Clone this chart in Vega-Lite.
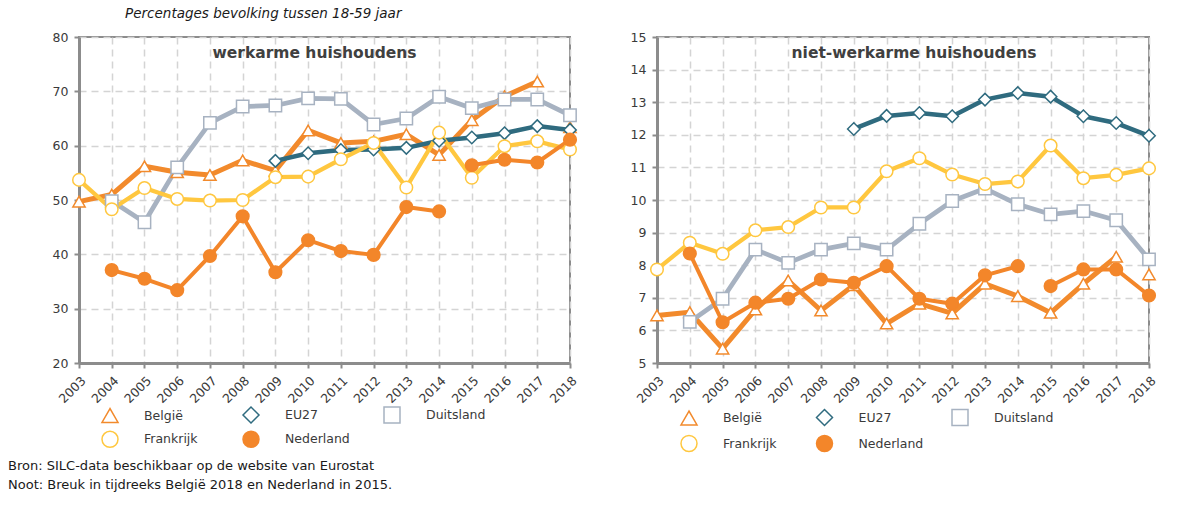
{
  "$schema": "https://vega.github.io/schema/vega-lite/v6.json",
  "background": "white",
  "padding": {"left": 8, "top": 6, "right": 10, "bottom": 5},
  "config": {
    "font": "DejaVu Sans",
    "view": {"stroke": "#8c8c8c", "strokeWidth": 2},
    "axis": {"labelFont": "DejaVu Sans", "labelFontSize": 12.5, "labelColor": "#3a3a3a", "domainColor": "#8c8c8c", "domainWidth": 3, "tickColor": "#8c8c8c", "tickWidth": 2, "tickSize": 5, "labelPadding": 6, "gridColor": "#d4d4d4", "gridDash": [7, 5], "gridWidth": 1.5},
    "legend": {"labelFont": "DejaVu Sans", "labelFontSize": 12.5, "labelColor": "#3a3a3a", "symbolSize": 256, "symbolStrokeWidth": 1.5, "labelOffset": 25, "gridAlign": "all", "padding": 0, "columns": 3, "direction": "horizontal", "orient": "none", "title": null}
  },
  "datasets": {
    "werk": [
      {"series": "België", "segment": "a", "year": 2003, "value": 49.7},
      {"series": "België", "segment": "a", "year": 2004, "value": 51.0},
      {"series": "België", "segment": "a", "year": 2005, "value": 56.2},
      {"series": "België", "segment": "a", "year": 2006, "value": 55.1},
      {"series": "België", "segment": "a", "year": 2007, "value": 54.6},
      {"series": "België", "segment": "a", "year": 2008, "value": 57.3},
      {"series": "België", "segment": "a", "year": 2009, "value": 55.4},
      {"series": "België", "segment": "a", "year": 2010, "value": 62.8},
      {"series": "België", "segment": "a", "year": 2011, "value": 60.5},
      {"series": "België", "segment": "a", "year": 2012, "value": 60.8},
      {"series": "België", "segment": "a", "year": 2013, "value": 62.1},
      {"series": "België", "segment": "a", "year": 2014, "value": 58.3},
      {"series": "België", "segment": "a", "year": 2015, "value": 64.7},
      {"series": "België", "segment": "a", "year": 2016, "value": 69.1},
      {"series": "België", "segment": "a", "year": 2017, "value": 71.8},
      {"series": "België", "segment": "b", "year": 2018, "value": 63.4},
      {"series": "EU27", "segment": "a", "year": 2009, "value": 57.2},
      {"series": "EU27", "segment": "a", "year": 2010, "value": 58.6},
      {"series": "EU27", "segment": "a", "year": 2011, "value": 59.2},
      {"series": "EU27", "segment": "a", "year": 2012, "value": 59.3},
      {"series": "EU27", "segment": "a", "year": 2013, "value": 59.6},
      {"series": "EU27", "segment": "a", "year": 2014, "value": 60.9},
      {"series": "EU27", "segment": "a", "year": 2015, "value": 61.5},
      {"series": "EU27", "segment": "a", "year": 2016, "value": 62.3},
      {"series": "EU27", "segment": "a", "year": 2017, "value": 63.6},
      {"series": "EU27", "segment": "a", "year": 2018, "value": 62.9},
      {"series": "Duitsland", "segment": "a", "year": 2004, "value": 49.8},
      {"series": "Duitsland", "segment": "a", "year": 2005, "value": 45.9},
      {"series": "Duitsland", "segment": "a", "year": 2006, "value": 56.0},
      {"series": "Duitsland", "segment": "a", "year": 2007, "value": 64.2},
      {"series": "Duitsland", "segment": "a", "year": 2008, "value": 67.2},
      {"series": "Duitsland", "segment": "a", "year": 2009, "value": 67.4},
      {"series": "Duitsland", "segment": "a", "year": 2010, "value": 68.7},
      {"series": "Duitsland", "segment": "a", "year": 2011, "value": 68.6},
      {"series": "Duitsland", "segment": "a", "year": 2012, "value": 63.9},
      {"series": "Duitsland", "segment": "a", "year": 2013, "value": 65.0},
      {"series": "Duitsland", "segment": "a", "year": 2014, "value": 69.0},
      {"series": "Duitsland", "segment": "a", "year": 2015, "value": 66.9},
      {"series": "Duitsland", "segment": "a", "year": 2016, "value": 68.5},
      {"series": "Duitsland", "segment": "a", "year": 2017, "value": 68.5},
      {"series": "Duitsland", "segment": "a", "year": 2018, "value": 65.6},
      {"series": "Frankrijk", "segment": "a", "year": 2003, "value": 53.7},
      {"series": "Frankrijk", "segment": "a", "year": 2004, "value": 48.3},
      {"series": "Frankrijk", "segment": "a", "year": 2005, "value": 52.2},
      {"series": "Frankrijk", "segment": "a", "year": 2006, "value": 50.2},
      {"series": "Frankrijk", "segment": "a", "year": 2007, "value": 49.9},
      {"series": "Frankrijk", "segment": "a", "year": 2008, "value": 50.0},
      {"series": "Frankrijk", "segment": "a", "year": 2009, "value": 54.2},
      {"series": "Frankrijk", "segment": "a", "year": 2010, "value": 54.3},
      {"series": "Frankrijk", "segment": "a", "year": 2011, "value": 57.5},
      {"series": "Frankrijk", "segment": "a", "year": 2012, "value": 60.5},
      {"series": "Frankrijk", "segment": "a", "year": 2013, "value": 52.3},
      {"series": "Frankrijk", "segment": "a", "year": 2014, "value": 62.4},
      {"series": "Frankrijk", "segment": "a", "year": 2015, "value": 54.1},
      {"series": "Frankrijk", "segment": "a", "year": 2016, "value": 59.9},
      {"series": "Frankrijk", "segment": "a", "year": 2017, "value": 60.8},
      {"series": "Frankrijk", "segment": "a", "year": 2018, "value": 59.3},
      {"series": "Nederland", "segment": "a", "year": 2004, "value": 37.1},
      {"series": "Nederland", "segment": "a", "year": 2005, "value": 35.5},
      {"series": "Nederland", "segment": "a", "year": 2006, "value": 33.4},
      {"series": "Nederland", "segment": "a", "year": 2007, "value": 39.7},
      {"series": "Nederland", "segment": "a", "year": 2008, "value": 47.0},
      {"series": "Nederland", "segment": "a", "year": 2009, "value": 36.7},
      {"series": "Nederland", "segment": "a", "year": 2010, "value": 42.6},
      {"series": "Nederland", "segment": "a", "year": 2011, "value": 40.6},
      {"series": "Nederland", "segment": "a", "year": 2012, "value": 39.9},
      {"series": "Nederland", "segment": "a", "year": 2013, "value": 48.7},
      {"series": "Nederland", "segment": "a", "year": 2014, "value": 47.9},
      {"series": "Nederland", "segment": "b", "year": 2015, "value": 56.4},
      {"series": "Nederland", "segment": "b", "year": 2016, "value": 57.4},
      {"series": "Nederland", "segment": "b", "year": 2017, "value": 56.9},
      {"series": "Nederland", "segment": "b", "year": 2018, "value": 61.1}
    ],
    "niet": [
      {"series": "België", "segment": "a", "year": 2003, "value": 6.46},
      {"series": "België", "segment": "a", "year": 2004, "value": 6.56},
      {"series": "België", "segment": "a", "year": 2005, "value": 5.44},
      {"series": "België", "segment": "a", "year": 2006, "value": 6.64},
      {"series": "België", "segment": "a", "year": 2007, "value": 7.53},
      {"series": "België", "segment": "a", "year": 2008, "value": 6.61},
      {"series": "België", "segment": "a", "year": 2009, "value": 7.39},
      {"series": "België", "segment": "a", "year": 2010, "value": 6.21},
      {"series": "België", "segment": "a", "year": 2011, "value": 6.82},
      {"series": "België", "segment": "a", "year": 2012, "value": 6.52},
      {"series": "België", "segment": "a", "year": 2013, "value": 7.43},
      {"series": "België", "segment": "a", "year": 2014, "value": 7.05},
      {"series": "België", "segment": "a", "year": 2015, "value": 6.54},
      {"series": "België", "segment": "a", "year": 2016, "value": 7.43},
      {"series": "België", "segment": "a", "year": 2017, "value": 8.26},
      {"series": "België", "segment": "b", "year": 2018, "value": 7.72},
      {"series": "EU27", "segment": "a", "year": 2009, "value": 12.18},
      {"series": "EU27", "segment": "a", "year": 2010, "value": 12.58},
      {"series": "EU27", "segment": "a", "year": 2011, "value": 12.67},
      {"series": "EU27", "segment": "a", "year": 2012, "value": 12.57},
      {"series": "EU27", "segment": "a", "year": 2013, "value": 13.08},
      {"series": "EU27", "segment": "a", "year": 2014, "value": 13.28},
      {"series": "EU27", "segment": "a", "year": 2015, "value": 13.17},
      {"series": "EU27", "segment": "a", "year": 2016, "value": 12.57},
      {"series": "EU27", "segment": "a", "year": 2017, "value": 12.36},
      {"series": "EU27", "segment": "a", "year": 2018, "value": 11.97},
      {"series": "Duitsland", "segment": "a", "year": 2004, "value": 6.26},
      {"series": "Duitsland", "segment": "a", "year": 2005, "value": 6.97},
      {"series": "Duitsland", "segment": "a", "year": 2006, "value": 8.48},
      {"series": "Duitsland", "segment": "a", "year": 2007, "value": 8.07},
      {"series": "Duitsland", "segment": "a", "year": 2008, "value": 8.48},
      {"series": "Duitsland", "segment": "a", "year": 2009, "value": 8.67},
      {"series": "Duitsland", "segment": "a", "year": 2010, "value": 8.48},
      {"series": "Duitsland", "segment": "a", "year": 2011, "value": 9.27},
      {"series": "Duitsland", "segment": "a", "year": 2012, "value": 9.97},
      {"series": "Duitsland", "segment": "a", "year": 2013, "value": 10.35},
      {"series": "Duitsland", "segment": "a", "year": 2014, "value": 9.87},
      {"series": "Duitsland", "segment": "a", "year": 2015, "value": 9.56},
      {"series": "Duitsland", "segment": "a", "year": 2016, "value": 9.66},
      {"series": "Duitsland", "segment": "a", "year": 2017, "value": 9.38},
      {"series": "Duitsland", "segment": "a", "year": 2018, "value": 8.18},
      {"series": "Frankrijk", "segment": "a", "year": 2003, "value": 7.87},
      {"series": "Frankrijk", "segment": "a", "year": 2004, "value": 8.69},
      {"series": "Frankrijk", "segment": "a", "year": 2005, "value": 8.35},
      {"series": "Frankrijk", "segment": "a", "year": 2006, "value": 9.07},
      {"series": "Frankrijk", "segment": "a", "year": 2007, "value": 9.17},
      {"series": "Frankrijk", "segment": "a", "year": 2008, "value": 9.77},
      {"series": "Frankrijk", "segment": "a", "year": 2009, "value": 9.77},
      {"series": "Frankrijk", "segment": "a", "year": 2010, "value": 10.88},
      {"series": "Frankrijk", "segment": "a", "year": 2011, "value": 11.28},
      {"series": "Frankrijk", "segment": "a", "year": 2012, "value": 10.78},
      {"series": "Frankrijk", "segment": "a", "year": 2013, "value": 10.49},
      {"series": "Frankrijk", "segment": "a", "year": 2014, "value": 10.57},
      {"series": "Frankrijk", "segment": "a", "year": 2015, "value": 11.67},
      {"series": "Frankrijk", "segment": "a", "year": 2016, "value": 10.67},
      {"series": "Frankrijk", "segment": "a", "year": 2017, "value": 10.77},
      {"series": "Frankrijk", "segment": "a", "year": 2018, "value": 10.97},
      {"series": "Nederland", "segment": "a", "year": 2004, "value": 8.36},
      {"series": "Nederland", "segment": "a", "year": 2005, "value": 6.25},
      {"series": "Nederland", "segment": "a", "year": 2006, "value": 6.85},
      {"series": "Nederland", "segment": "a", "year": 2007, "value": 6.97},
      {"series": "Nederland", "segment": "a", "year": 2008, "value": 7.56},
      {"series": "Nederland", "segment": "a", "year": 2009, "value": 7.46},
      {"series": "Nederland", "segment": "a", "year": 2010, "value": 7.97},
      {"series": "Nederland", "segment": "a", "year": 2011, "value": 6.97},
      {"series": "Nederland", "segment": "a", "year": 2012, "value": 6.82},
      {"series": "Nederland", "segment": "a", "year": 2013, "value": 7.69},
      {"series": "Nederland", "segment": "a", "year": 2014, "value": 7.97},
      {"series": "Nederland", "segment": "b", "year": 2015, "value": 7.36},
      {"series": "Nederland", "segment": "b", "year": 2016, "value": 7.87},
      {"series": "Nederland", "segment": "b", "year": 2017, "value": 7.87},
      {"series": "Nederland", "segment": "b", "year": 2018, "value": 7.07}
    ]
  },
  "title": {"text": ["Bron: SILC-data beschikbaar op de website van Eurostat", "Noot: Breuk in tijdreeks België 2018 en Nederland in 2015."], "orient": "bottom", "anchor": "start", "dx": -43, "offset": 4, "font": "DejaVu Sans", "fontSize": 13, "fontWeight": "normal", "color": "#1a1a1a", "lineHeight": 19},
  "vconcat": [
    {
      "title": {"text": "Percentages bevolking tussen 18-59 jaar", "anchor": "start", "dx": 74, "offset": 10, "font": "DejaVu Sans", "fontSize": 13.5, "fontStyle": "italic", "fontWeight": "normal", "color": "#1a1a1a"},
      "spacing": 48,
      "resolve": {"scale": {"stroke": "independent", "fill": "independent", "shape": "independent", "size": "independent", "strokeWidth": "independent"}, "legend": {"stroke": "independent", "fill": "independent", "shape": "independent"}},
      "hconcat": [
        {
          "width": 491,
          "height": 326,
          "title": {"text": "werkarme huishoudens", "frame": "group", "anchor": "middle", "dx": -10, "offset": -30, "font": "DejaVu Sans", "fontSize": 15.5, "fontWeight": "bold", "color": "#404040"},
          "data": {"name": "werk"},
          "encoding": {
            "x": {"field": "year", "type": "quantitative", "title": null, "scale": {"domain": [2003, 2018], "nice": false, "zero": false}, "axis": {"values": [2003, 2004, 2005, 2006, 2007, 2008, 2009, 2010, 2011, 2012, 2013, 2014, 2015, 2016, 2017, 2018], "format": "d", "labelAngle": -45}},
            "y": {"field": "value", "type": "quantitative", "title": null, "scale": {"domain": [20, 80], "nice": false, "zero": false}, "axis": {"values": [20, 30, 40, 50, 60, 70, 80]}}
          },
          "layer": [
            {
              "mark": {"type": "line", "strokeJoin": "round"},
              "encoding": {
                "stroke": {"field": "series", "type": "nominal", "scale": {"domain": ["België", "EU27", "Duitsland", "Frankrijk", "Nederland"], "range": ["#F28A2C", "#2F6B7F", "#A7B2C1", "#FFC73F", "#F3862A"]}},
                "strokeWidth": {"field": "series", "type": "nominal", "scale": {"range": [5, 4, 3.5, 4, 3.5]}, "legend": null},
                "detail": {"field": "segment"}
              }
            },
            {
              "mark": {"type": "point", "filled": true, "opacity": 1, "strokeWidth": 1.5},
              "encoding": {
                "stroke": {"field": "series", "type": "nominal", "legend": {"legendX": 22, "legendY": 369, "columnPadding": 31, "rowPadding": 2.3}},
                "fill": {"field": "series", "type": "nominal", "scale": {"domain": ["België", "EU27", "Duitsland", "Frankrijk", "Nederland"], "range": ["white", "white", "white", "white", "#F3862A"]}},
                "shape": {"field": "series", "type": "nominal", "scale": {"domain": ["België", "EU27", "Duitsland", "Frankrijk", "Nederland"], "range": ["triangle-up", "diamond", "square", "circle", "circle"]}},
                "size": {"field": "series", "type": "nominal", "scale": {"range": [150, 160, 55, 130, 130]}, "legend": null}
              }
            }
          ]
        },
        {
          "width": 492,
          "height": 326,
          "title": {"text": "niet-werkarme huishoudens", "frame": "group", "anchor": "middle", "dx": 11, "offset": -30, "font": "DejaVu Sans", "fontSize": 15.5, "fontWeight": "bold", "color": "#404040"},
          "data": {"name": "niet"},
          "encoding": {
            "x": {"field": "year", "type": "quantitative", "title": null, "scale": {"domain": [2003, 2018], "nice": false, "zero": false}, "axis": {"values": [2003, 2004, 2005, 2006, 2007, 2008, 2009, 2010, 2011, 2012, 2013, 2014, 2015, 2016, 2017, 2018], "format": "d", "labelAngle": -45}},
            "y": {"field": "value", "type": "quantitative", "title": null, "scale": {"domain": [5, 15], "nice": false, "zero": false}, "axis": {"values": [5, 6, 7, 8, 9, 10, 11, 12, 13, 14, 15]}}
          },
          "layer": [
            {
              "mark": {"type": "line", "strokeJoin": "round"},
              "encoding": {
                "stroke": {"field": "series", "type": "nominal", "scale": {"domain": ["België", "EU27", "Duitsland", "Frankrijk", "Nederland"], "range": ["#F28A2C", "#2F6B7F", "#A7B2C1", "#FFC73F", "#F3862A"]}},
                "strokeWidth": {"field": "series", "type": "nominal", "scale": {"range": [5, 4, 3.5, 4, 3.5]}, "legend": null},
                "detail": {"field": "segment"}
              }
            },
            {
              "mark": {"type": "point", "filled": true, "opacity": 1, "strokeWidth": 1.5},
              "encoding": {
                "stroke": {"field": "series", "type": "nominal", "legend": {"legendX": 23, "legendY": 371.5, "columnPadding": 25.5, "rowPadding": 4}},
                "fill": {"field": "series", "type": "nominal", "scale": {"domain": ["België", "EU27", "Duitsland", "Frankrijk", "Nederland"], "range": ["white", "white", "white", "white", "#F3862A"]}},
                "shape": {"field": "series", "type": "nominal", "scale": {"domain": ["België", "EU27", "Duitsland", "Frankrijk", "Nederland"], "range": ["triangle-up", "diamond", "square", "circle", "circle"]}},
                "size": {"field": "series", "type": "nominal", "scale": {"range": [150, 160, 55, 130, 130]}, "legend": null}
              }
            }
          ]
        }
      ]
    }
  ]
}
